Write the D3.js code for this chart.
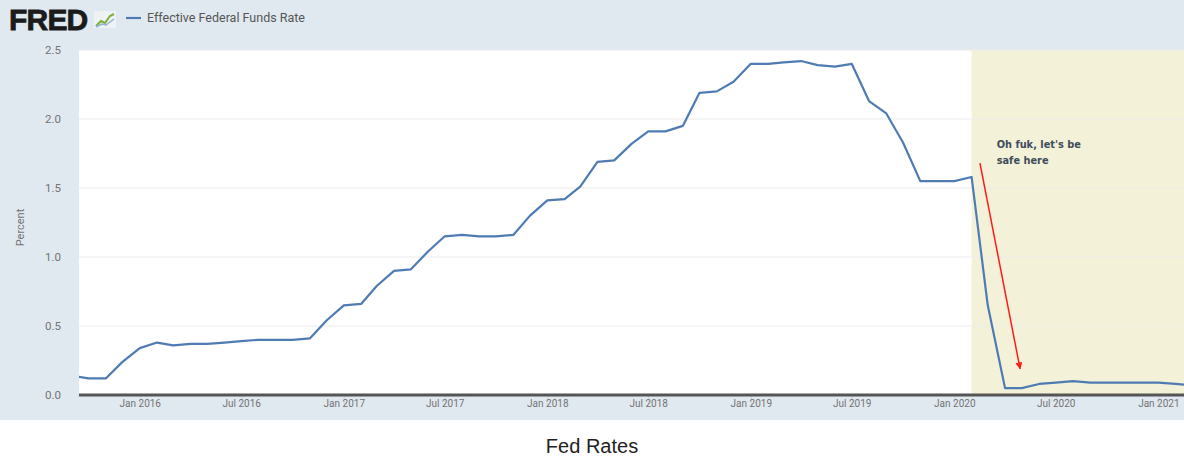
<!DOCTYPE html>
<html>
<head>
<meta charset="utf-8">
<script src="https://cdn.jsdelivr.net/npm/d3@7"></script>
<style>
  body { margin: 0; background: #fff; }
  svg { display: block; }
</style>
</head>
<body>
<svg id="chart" width="1184" height="456"></svg>
<script>
// monthly effective federal funds rate, Sep 2015 .. Mar 2021
var startMonth = "2015-09";
var rates = [
    0.14, 0.12, 0.12, 0.24,
    0.34, 0.38, 0.36, 0.37, 0.37, 0.38, 0.39, 0.40, 0.40, 0.40, 0.41, 0.54,
    0.65, 0.66, 0.79, 0.90, 0.91, 1.04, 1.15, 1.16, 1.15, 1.15, 1.16, 1.30,
    1.41, 1.42, 1.51, 1.69, 1.70, 1.82, 1.91, 1.91, 1.95, 2.19, 2.20, 2.27,
    2.40, 2.40, 2.41, 2.42, 2.39, 2.38, 2.40, 2.13, 2.04, 1.83, 1.55, 1.55,
    1.55, 1.58, 0.65, 0.05, 0.05, 0.08, 0.09, 0.10, 0.09, 0.09, 0.09, 0.09,
    0.09, 0.08, 0.07
];
var yTicks = [0, 0.5, 1.0, 1.5, 2.0, 2.5];
var visibleRange = ["2015-09-14", "2021-02-16"];
var recession = ["2020-02-01", "2021-03-31"];
var seriesName = "Effective Federal Funds Rate";
var noteLines = ["Oh fuk, let's be", "safe here"];
var noteAt = ["2020-03-17", 1.79];
var arrowFrom = ["2020-02-16", 1.68];
var arrowTo = ["2020-04-28", 0.19];
var chartTitle = "Fed Rates";

const parse = d3.utcParse("%Y-%m-%d");
const first = d3.utcParse("%Y-%m")(startMonth);
var data = rates.map((v, i) => ({date: d3.utcMonth.offset(first, i), value: v}));

const svg = d3.select("#chart");
const W = 1184;
const plot = {left: 79, right: 1184, top: 50, bottom: 395};

// frame background
svg.append("rect").attr("x", 0).attr("y", 0).attr("width", W).attr("height", 420)
    .attr("fill", "#e1e9f0");
svg.append("rect").attr("x", plot.left).attr("y", plot.top)
    .attr("width", plot.right - plot.left).attr("height", plot.bottom - plot.top)
    .attr("fill", "#ffffff");

var x = d3.scaleUtc()
    .domain(visibleRange.map(parse))
    .range([plot.left, plot.right]);

var y = d3.scaleLinear()
    .domain([0, 2.5])
    .range([plot.bottom, plot.top]);

svg.append("clipPath").attr("id", "clip")
    .append("rect").attr("x", plot.left).attr("y", plot.top - 5)
    .attr("width", plot.right - plot.left).attr("height", plot.bottom - plot.top + 5);

// recession shading
svg.append("rect")
    .attr("clip-path", "url(#clip)")
    .attr("x", x(parse(recession[0])))
    .attr("y", plot.top)
    .attr("width", x(parse(recession[1])) - x(parse(recession[0])))
    .attr("height", plot.bottom - plot.top)
    .attr("fill", "#f3f2d8");

// grid
svg.append("g").selectAll("line")
    .data(yTicks.filter(t => t > 0))
    .enter().append("line")
    .attr("x1", plot.left).attr("x2", plot.right)
    .attr("y1", d => y(d)).attr("y2", d => y(d))
    .attr("stroke", "#ebebeb").attr("stroke-width", 1);

// y axis labels
var yAxis = svg.append("g")
    .attr("transform", "translate(" + (plot.left - 15) + ",0)")
    .call(d3.axisLeft(y).tickValues(yTicks).tickFormat(d3.format(".1f")).tickSize(0));
yAxis.select(".domain").remove();
yAxis.selectAll("text")
    .attr("font-family", "Roboto, sans-serif").attr("font-size", 11.5)
    .attr("fill", "#737373");

svg.append("text")
    .attr("transform", "translate(24," + ((plot.top + plot.bottom) / 2 + 5) + ") rotate(-90)")
    .attr("text-anchor", "middle")
    .attr("font-family", "Roboto, sans-serif").attr("font-size", 11)
    .attr("fill", "#737373")
    .text("Percent");

// x axis
var xAxis = svg.append("g")
    .attr("transform", "translate(0," + plot.bottom + ")")
    .call(d3.axisBottom(x)
        .ticks(d3.utcMonth.every(6))
        .tickFormat(d3.utcFormat("%b %Y"))
        .tickSize(10)
        .tickPadding(4));
xAxis.select(".domain").remove();
xAxis.selectAll(".tick line").attr("stroke", "#cbd5df");
xAxis.selectAll("text")
    .attr("font-family", "Roboto, sans-serif").attr("font-size", 10)
    .attr("fill", "#737373")
    .attr("dy", "-0.2em");

svg.append("line")
    .attr("x1", plot.left).attr("x2", plot.right)
    .attr("y1", plot.bottom).attr("y2", plot.bottom)
    .attr("stroke", "#555").attr("stroke-width", 3);

// series line
var line = d3.line()
    .x(d => x(d.date))
    .y(d => y(d.value));

svg.append("path")
    .datum(data)
    .attr("clip-path", "url(#clip)")
    .attr("d", line)
    .attr("fill", "none")
    .attr("stroke", "#4f7bb3")
    .attr("stroke-width", 2.2)
    .attr("stroke-linejoin", "round");

// annotation
var note = svg.append("text")
    .attr("x", x(parse(noteAt[0])))
    .attr("y", y(noteAt[1]))
    .attr("font-family", "'DejaVu Sans', sans-serif").attr("font-size", 9.8)
    .attr("font-weight", "bold")
    .attr("fill", "#3e4c5c");
note.selectAll("tspan")
    .data(noteLines)
    .enter().append("tspan")
    .attr("x", x(parse(noteAt[0])))
    .attr("dy", (d, i) => i === 0 ? 0 : 16)
    .text(d => d);

svg.append("defs").append("marker")
    .attr("id", "head")
    .attr("viewBox", "0 0 10 10")
    .attr("refX", 9).attr("refY", 5)
    .attr("markerWidth", 7).attr("markerHeight", 7)
    .attr("markerUnits", "userSpaceOnUse")
    .attr("orient", "auto")
    .append("path").attr("d", "M0,0 L10,5 L0,10 Z").attr("fill", "#ff1a1a");

svg.append("line")
    .attr("x1", x(parse(arrowFrom[0]))).attr("y1", y(arrowFrom[1]))
    .attr("x2", x(parse(arrowTo[0]))).attr("y2", y(arrowTo[1]))
    .attr("stroke", "#ff1a1a").attr("stroke-width", 1.5)
    .attr("marker-end", "url(#head)");

// header: logo + legend
svg.append("text")
    .attr("x", 9).attr("y", 30)
    .attr("font-family", "'Liberation Sans', Arial, sans-serif")
    .attr("font-size", 30).attr("font-weight", "bold")
    .attr("letter-spacing", -0.8)
    .attr("fill", "#1b1b1b")
    .attr("stroke", "#1b1b1b").attr("stroke-width", 0.8)
    .text("FRED");

var icon = svg.append("g").attr("transform", "translate(94,11)");
icon.append("rect").attr("width", 22).attr("height", 17).attr("fill", "#eef2f5");
icon.append("polyline")
    .attr("points", "2,15 7,10 11,12 16,5 20,3")
    .attr("fill", "none").attr("stroke", "#7fae3c").attr("stroke-width", 2);
icon.append("polyline")
    .attr("points", "2,16 8,13 12,14 20,8")
    .attr("fill", "none").attr("stroke", "#8fb3d6").attr("stroke-width", 1.5);

svg.append("line")
    .attr("x1", 126).attr("x2", 141).attr("y1", 18).attr("y2", 18)
    .attr("stroke", "#4f7bb3").attr("stroke-width", 2.2);
svg.append("text")
    .attr("x", 147).attr("y", 22)
    .attr("font-family", "Roboto, sans-serif").attr("font-size", 12.5)
    .attr("fill", "#555")
    .text(seriesName);

// caption
svg.append("text")
    .attr("x", W / 2).attr("y", 453)
    .attr("text-anchor", "middle")
    .attr("font-family", "'Liberation Sans', Arial, sans-serif")
    .attr("font-size", 20)
    .attr("fill", "#222")
    .text(chartTitle);
</script>
</body>
</html>
